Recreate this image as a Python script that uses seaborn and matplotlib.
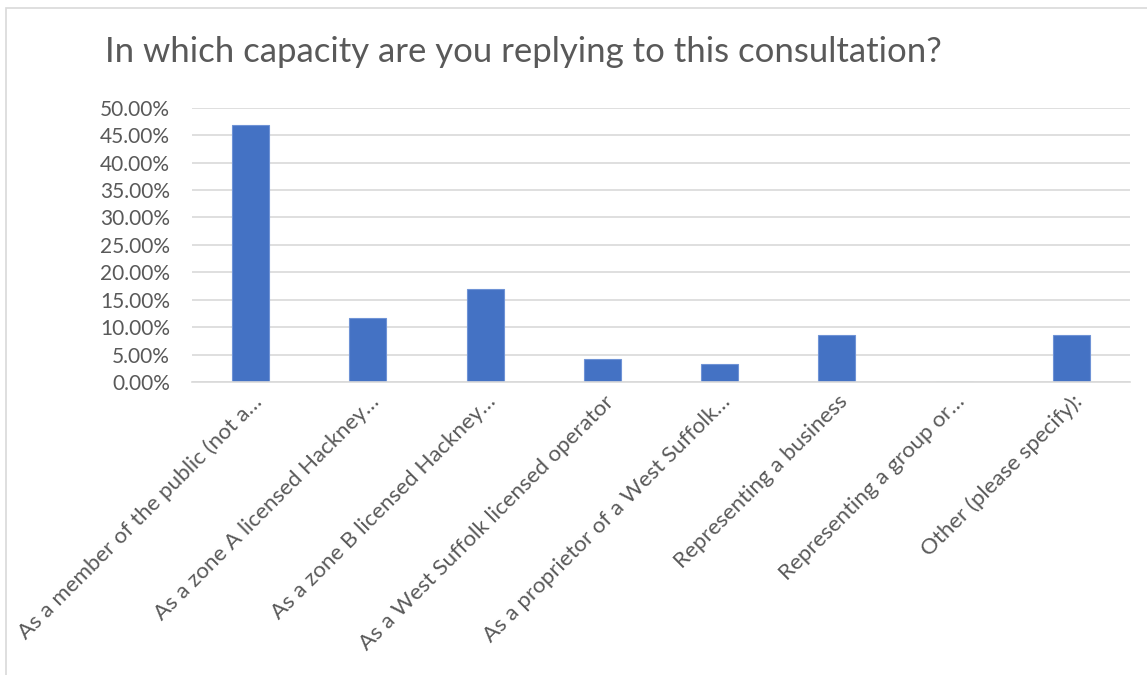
import matplotlib
matplotlib.use("Agg")
import matplotlib.pyplot as plt
import matplotlib.transforms as mtransforms
import seaborn as sns
import pandas as pd
from matplotlib.patches import Rectangle
from matplotlib.ticker import FuncFormatter, MultipleLocator

categories = [
    "As a member of the public (not a…",
    "As a zone A licensed Hackney…",
    "As a zone B licensed Hackney…",
    "As a West Suffolk licensed operator",
    "As a proprietor of a West Suffolk…",
    "Representing a business",
    "Representing a group or…",
    "Other (please specify):",
]
values = [46.81, 11.70, 17.02, 4.26, 3.19, 8.51, 0.0, 8.51]
title = "In which capacity are you replying to this consultation?"

sns.set_theme(style="white")
plt.rcParams["font.family"] = ["Lato", "DejaVu Sans"]

df = pd.DataFrame({"cat": categories, "val": values})

fig = plt.figure(figsize=(11.47, 6.75), dpi=100)
W, H = 1147, 675
ax = fig.add_axes([192 / W, 1 - 382 / H, (1130 - 192) / W, (382 - 107.7) / H])

sns.barplot(data=df, x="cat", y="val", color="#4472C4", width=0.315,
            saturation=1, ax=ax, edgecolor="#6f93d6", linewidth=0.8)

ax.set_ylim(0, 50)
ax.set_xlim(-0.5, len(categories) - 0.5)
ax.yaxis.set_major_locator(MultipleLocator(5))
ax.yaxis.set_major_formatter(FuncFormatter(lambda v, p: f"{v:.2f}%"))
ax.grid(axis="y", color="#d9d9d9", linewidth=1.2)
ax.set_axisbelow(True)
for s in ["top", "right", "left"]:
    ax.spines[s].set_visible(False)
ax.spines["bottom"].set_color("#d9d9d9")
ax.spines["bottom"].set_linewidth(1.2)
ax.set_xlabel("")
ax.set_ylabel("")
ax.tick_params(axis="y", labelsize=15, labelcolor="#595959", length=0, pad=16)
ax.tick_params(axis="x", labelsize=16, labelcolor="#595959", length=0, pad=12)
offset = mtransforms.ScaledTranslation(0.08, 0, fig.dpi_scale_trans)
for lab in ax.get_xticklabels():
    lab.set_rotation(45)
    lab.set_ha("right")
    lab.set_va("center")
    lab.set_rotation_mode("anchor")
    lab.set_transform(lab.get_transform() + offset)

fig.text(105 / W, 1 - 52 / H, title, fontsize=25, color="#595959",
         ha="left", va="center")

fig.patches.append(Rectangle((6 / W, -0.1), 1.2, 1 - 8 / H + 0.1,
                             transform=fig.transFigure, fill=False,
                             edgecolor="#d9d9d9", linewidth=1.2))

fig.savefig("out.png", dpi=100, facecolor="white")
